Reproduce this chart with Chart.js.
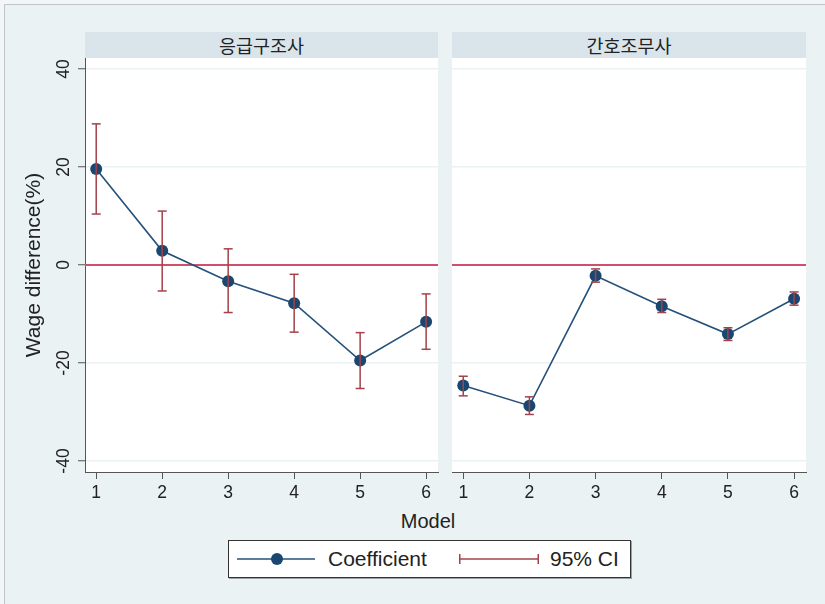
<!DOCTYPE html>
<html>
<head>
<meta charset="utf-8">
<title>Wage difference by model</title>
<script src="https://cdn.jsdelivr.net/npm/chart.js@4.4.1/dist/chart.umd.min.js"></script>
<style>
  html, body { margin: 0; padding: 0; }
  body {
    width: 825px; height: 604px; position: relative; overflow: hidden;
    background: #F3F6F7;
    font-family: "Liberation Sans", Arial, sans-serif;
  }
  #frame {
    position: absolute; left: 4px; top: 4px; right: 0; bottom: 0;
    background: #EAF2F3;
    border-left: 1.5px solid #BEC6CA; border-top: 1.5px solid #BEC6CA;
  }
  .strip {
    position: absolute; top: 32px; height: 26px;
    background: #D9E5EB; color: #222;
    font-family: "Noto Sans CJK KR", sans-serif; font-size: 18.5px;
    line-height: 26px; text-align: center;
  }
  canvas { position: absolute; top: 0; }
  #xtitle {
    position: absolute; left: 0; width: 856px; top: 509px;
    line-height: 24px; font-size: 20px; color: #222; text-align: center;
  }
  #legend {
    position: absolute; left: 228px; top: 540px; width: 403px; height: 38px;
    box-sizing: border-box; background: #fff; border: 1px solid #333;
    box-shadow: 1px 1px 0 #9AA0A3;
  }
  #legend svg { position: absolute; left: 0; top: 0; }
  #legend span {
    position: absolute; top: 0; line-height: 36px; font-size: 21px; color: #222;
    white-space: nowrap;
  }
</style>
</head>
<body>
<div id="frame"></div>
<div class="strip" id="strip0" style="left:85px;width:353px;"></div>
<div class="strip" id="strip1" style="left:452px;width:354px;"></div>
<canvas id="panel0" width="445" height="500" style="left:0;width:445px;height:500px;"></canvas>
<canvas id="panel1" width="395" height="500" style="left:430px;width:395px;height:500px;"></canvas>
<div id="xtitle"></div>
<div id="legend">
  <svg width="401" height="36">
    <line x1="8" y1="18" x2="86" y2="18" stroke="#24507A" stroke-width="1.6"/>
    <circle cx="48" cy="18" r="6" fill="#1A476F"/>
    <line x1="230" y1="18" x2="310" y2="18" stroke="#A3424A" stroke-width="1.5"/>
    <line x1="230.75" y1="13" x2="230.75" y2="23" stroke="#A3424A" stroke-width="1.5"/>
    <line x1="309.25" y1="13" x2="309.25" y2="23" stroke="#A3424A" stroke-width="1.5"/>
  </svg>
  <span id="lab0" style="left:99px;"></span>
  <span id="lab1" style="left:321px;"></span>
</div>

<script>
// Regression models on the x axis and the y-axis tick values
const models = [1, 2, 3, 4, 5, 6];
const yTicks = [-40, -20, 0, 20, 40];
const yRange = [-42.24, 42.24];
const xRange = [0.83, 6.18];
const zeroLine = 0;

const panelTitles = ['응급구조사', '간호조무사'];
const seriesLabels = ['Coefficient', '95% CI'];
const yTitle = 'Wage difference(%)';
const xTitle = 'Model';

// 응급구조사: coefficient and 95% confidence bounds
const emtCoef = [19.6, 2.9, -3.3, -7.8, -19.5, -11.6];
const emtLow  = [10.4, -5.3, -9.7, -13.7, -25.2, -17.2];
const emtHigh = [28.8, 11.0, 3.3, -1.9, -13.8, -5.9];

// 간호조무사: coefficient and 95% confidence bounds
const naCoef = [-24.6, -28.7, -2.2, -8.4, -14.1, -6.9];
const naLow  = [-26.7, -30.5, -3.5, -9.7, -15.4, -8.2];
const naHigh = [-22.7, -26.9, -0.8, -7.0, -12.8, -5.5];

const FONT = '"Liberation Sans", Arial, sans-serif';
const NAVY = '#1A476F';
const MAROON = '#A3424A';
const REFLINE = '#D0506C';
const AXIS = '#555555';

document.getElementById('strip0').textContent = panelTitles[0];
document.getElementById('strip1').textContent = panelTitles[1];
document.getElementById('xtitle').textContent = xTitle;
document.getElementById('lab0').textContent = seriesLabels[0];
document.getElementById('lab1').textContent = seriesLabels[1];

// White plot region behind the grid and data
const plotBg = {
  id: 'plotBg',
  beforeDraw(chart) {
    const { ctx, chartArea: a } = chart;
    ctx.save();
    ctx.fillStyle = '#FFFFFF';
    ctx.fillRect(a.left, a.top, a.right - a.left, a.bottom - a.top);
    ctx.restore();
  }
};

function coefPoints(coef) {
  return models.map((m, i) => ({ x: m, y: coef[i] }));
}

// Each interval is a vertical segment; a null point breaks the line between models
function ciPoints(lo, hi) {
  const pts = [];
  models.forEach((m, i) => {
    pts.push({ x: m, y: lo[i] }, { x: m, y: hi[i] }, { x: m, y: null });
  });
  return pts;
}

function makePanel(id, coef, lo, hi, withYAxis, padding) {
  const yScale = {
    type: 'linear',
    min: yRange[0], max: yRange[1],
    afterBuildTicks: s => { s.ticks = yTicks.map(v => ({ value: v })); },
    grid: {
      color: '#EAF2F3', lineWidth: 1.5,
      drawTicks: withYAxis, tickLength: 7, tickColor: AXIS, tickWidth: 1
    },
    border: { display: withYAxis, color: AXIS, width: 1 }
  };
  if (withYAxis) {
    yScale.afterFit = s => { s.width = 85; };
    yScale.ticks = {
      display: true, minRotation: 90, maxRotation: 90, crossAlign: 'center',
      padding: 1, color: '#222', font: { family: FONT, size: 17.5 }
    };
    yScale.title = {
      display: true, text: yTitle, color: '#222',
      font: { family: FONT, size: 21 }, padding: { top: 22, bottom: 0 }
    };
  } else {
    yScale.afterFit = s => { s.width = 0; };
    yScale.ticks = { display: false };
  }

  return new Chart(document.getElementById(id), {
    type: 'line',
    data: {
      datasets: [
        {
          label: 'zero',
          data: [{ x: xRange[0], y: zeroLine }, { x: xRange[1], y: zeroLine }],
          borderColor: REFLINE, borderWidth: 2, pointRadius: 0, order: 3
        },
        {
          label: seriesLabels[0],
          data: coefPoints(coef),
          borderColor: '#24507A', borderWidth: 1.6,
          pointRadius: 6, pointBackgroundColor: NAVY, pointBorderWidth: 0,
          order: 2
        },
        {
          label: seriesLabels[1],
          data: ciPoints(lo, hi),
          borderColor: MAROON, borderWidth: 1.5, spanGaps: false,
          pointStyle: 'line', pointRadius: 4.5,
          pointBorderColor: MAROON, pointBorderWidth: 1.5,
          order: 1
        }
      ]
    },
    options: {
      responsive: false,
      animation: false,
      events: [],
      layout: { padding: padding },
      plugins: { legend: { display: false }, tooltip: { enabled: false } },
      scales: {
        x: {
          type: 'linear',
          min: xRange[0], max: xRange[1],
          afterBuildTicks: s => { s.ticks = models.map(v => ({ value: v })); },
          afterFit: s => { s.height = 28; },
          ticks: {
            color: '#222', font: { family: FONT, size: 17.5 }, padding: 4,
            maxRotation: 0, autoSkip: false
          },
          grid: {
            drawOnChartArea: false, drawTicks: true, tickLength: 7,
            tickColor: AXIS, color: AXIS
          },
          border: { display: true, color: AXIS, width: 1 }
        },
        y: yScale
      }
    },
    plugins: [plotBg]
  });
}

makePanel('panel0', emtCoef, emtLow, emtHigh, true, { left: 0, top: 58, right: 7, bottom: 0 });
makePanel('panel1', naCoef, naLow, naHigh, false, { left: 22, top: 58, right: 19, bottom: 0 });
</script>
</body>
</html>
